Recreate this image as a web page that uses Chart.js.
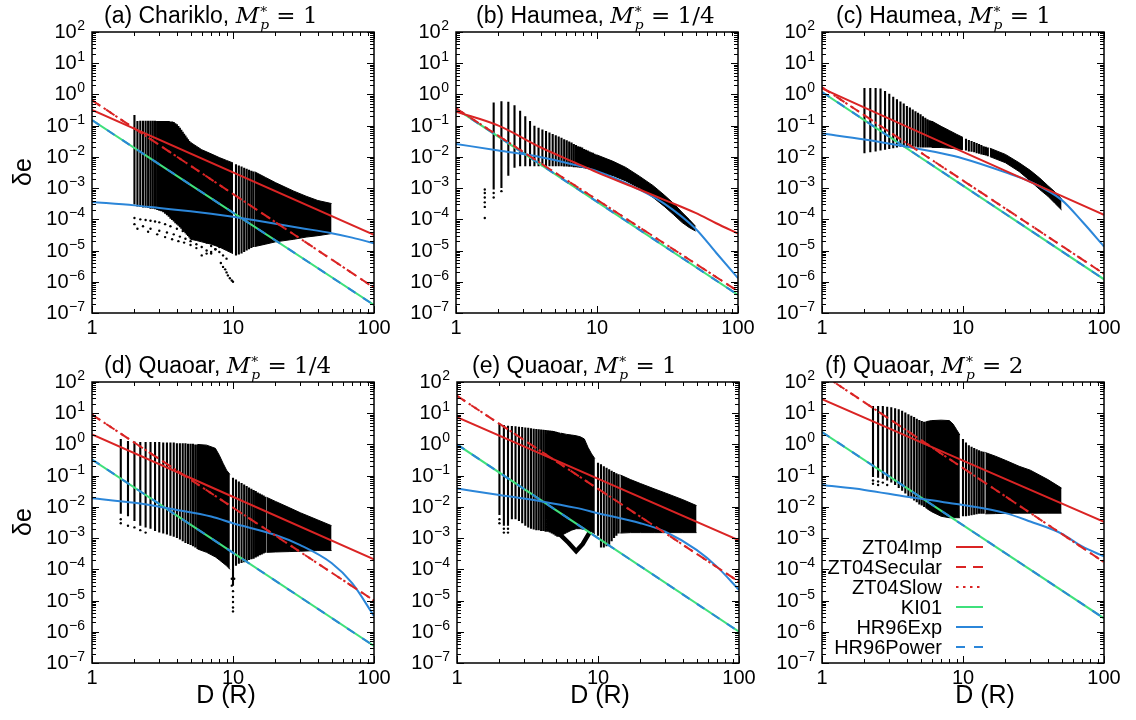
<!DOCTYPE html>
<html>
<head>
<meta charset="utf-8">
<title>Eccentricity excitation vs distance</title>
<script src="https://cdn.jsdelivr.net/npm/chart.js@4.4.1/dist/chart.umd.min.js"></script>
<style>
  html, body { margin: 0; padding: 0; background: #fff; }
  body { position: relative; width: 1136px; height: 720px; overflow: hidden;
         font-family: "Liberation Sans", Arial, Helvetica, sans-serif; color: #000; }
  canvas { position: absolute; }
  .ttl { position: absolute; font-size: 23px; line-height: 23px; white-space: nowrap; }
  .mp { font-family: "DejaVu Serif", "Liberation Serif", serif; }
  .ss { display: inline-block; font-size: 0.6em; line-height: 0.95; vertical-align: -0.45em; margin-left: 1px; }
  .ss span { display: block; }
  .ylab { position: absolute; font-size: 25px; white-space: nowrap; transform: translate(-50%, -50%) rotate(-90deg); }
  .xlab { position: absolute; font-size: 25px; white-space: nowrap; transform: translate(-50%, -50%); }
</style>
</head>
<body>
<script>
// ---- tick labels ----
const Y_EXP = [2, 1, 0, -1, -2, -3, -4, -5, -6, -7];
const X_TICKS = [1, 10, 100];
const LEGEND_NAMES = ['ZT04Imp', 'ZT04Secular', 'ZT04Slow', 'KI01', 'HR96Exp', 'HR96Power'];
const TITLE_NAMES = ['(a) Chariklo, ', '(b) Haumea, ', '(c) Haumea, ', '(d) Quaoar, ', '(e) Quaoar, ', '(f) Quaoar, '];
const TITLE_MASS = ['1', '1/4', '1', '1/4', '1', '2'];

// ---- model curves (straight ones only need the ends) ----
const LINE_D = [1, 100];
const aImp = [0.32, 3.2e-5], aSec = [0.65, 6.5e-7], aKI = [0.15, 1.8e-7];
const bSec = [0.36, 5e-7], bKI = [0.35, 3.8e-7];
const cSec = [1.7, 1.8e-6], cKI = [1.2, 1.2e-6];
const dImp = [2.1, 2.1e-4], dSec = [9, 1.0e-5], dKI = [0.33, 3.5e-7];
const eImp = [7.5, 8.5e-4], eSec = [36, 4e-5], eKI = [1.0, 1.0e-6];
const fImp = [28, 3.3e-3], fSec = [180, 1.7e-4], fKI = [2.5, 2.7e-6];

const bImpD = [1, 2, 4, 7, 10, 20, 30, 50, 70, 100];
const bImp = [0.28, 0.1, 0.02, 6.5e-3, 3.2e-3, 9e-4, 4.2e-4, 1.6e-4, 7.5e-5, 3.5e-5];
const cImpD = [1, 10, 100];
const cImp = [1.55, 0.0145, 1.4e-4];

const aExpD = [1, 2, 3, 5, 7, 10, 15, 20, 30, 50, 70, 100];
const aExp = [3.6e-4, 2.8e-4, 2.3e-4, 1.8e-4, 1.5e-4, 1.2e-4, 9e-5, 7.2e-5, 5.3e-5, 3.6e-5, 2.6e-5, 1.7e-5];
const EXP_D = [1, 2, 4, 7, 10, 20, 30, 50, 70, 100];
const bExp = [0.026, 0.016, 0.0098, 0.0055, 0.0035, 9e-4, 3.2e-4, 5e-5, 8.5e-6, 1.3e-6];
const cExp = [0.056, 0.036, 0.021, 0.013, 0.0089, 3.2e-3, 1.6e-3, 4.2e-4, 8.5e-5, 1.35e-5];
const dExp = [0.019, 0.0135, 0.008, 0.0049, 0.003, 1.26e-3, 6e-4, 1.6e-4, 3.6e-5, 3.2e-6];
const eExp = [0.039, 0.024, 0.015, 0.0093, 0.0063, 3e-3, 1.6e-3, 4.2e-4, 1.2e-4, 2.2e-5];
const fExp = [0.05, 0.035, 0.021, 0.0146, 0.0115, 6.3e-3, 3.4e-3, 1.4e-3, 5.4e-4, 2.6e-4];

// ---- simulation results: separate vertical bars, solid bands where they merge, stray points ----
const aBarD = [2.0, 2.1, 2.2, 2.3, 2.4, 2.5, 2.6, 2.7, 2.8, 2.9, 3.0, 3.1, 3.2, 3.3, 3.4, 3.5, 3.6, 3.7, 3.8, 3.9, 4.0, 4.1, 4.2, 4.3, 4.4, 4.5, 4.6, 4.7, 4.8, 4.9, 5.0];
const aBarHi = [0.22, 0.14, 0.145, 0.145, 0.145, 0.145, 0.145, 0.145, 0.145, 0.14, 0.14, 0.14, 0.14, 0.14, 0.14, 0.14, 0.135, 0.135, 0.13, 0.12, 0.11, 0.097, 0.085, 0.074, 0.064, 0.055, 0.048, 0.042, 0.037, 0.032, 0.029];
const aBarLo = [3.0e-4, 2.6e-4, 2.5e-4, 2.4e-4, 2.4e-4, 2.3e-4, 2.2e-4, 2.2e-4, 2.1e-4, 2.0e-4, 1.9e-4, 1.8e-4, 1.7e-4, 1.5e-4, 1.35e-4, 1.2e-4, 1.05e-4, 9.5e-5, 8.5e-5, 7.5e-5, 6.8e-5, 6.2e-5, 5.6e-5, 5.0e-5, 4.5e-5, 4.0e-5, 3.6e-5, 3.2e-5, 2.9e-5, 2.6e-5, 2.3e-5];
const aBand1D = [5.0, 5.5, 6, 7, 8, 9, 10];
const aBand1Hi = [0.029, 0.022, 0.017, 0.0125, 0.0095, 0.0077, 0.0064];
const aBand1Lo = [2.3e-5, 2.1e-5, 1.9e-5, 1.6e-5, 1.3e-5, 1.0e-5, 8e-6];
const aBar2D = [10.5, 11, 11.5, 12, 12.5, 13, 13.5, 14];
const aBar2Hi = [5.8e-3, 5.3e-3, 4.9e-3, 4.5e-3, 4.2e-3, 3.9e-3, 3.6e-3, 3.4e-3];
const aBar2Lo = [7e-6, 7.5e-6, 8e-6, 9e-6, 1e-5, 1.1e-5, 1.2e-5, 1.3e-5];
const aBand2D = [14.3, 17, 20, 27, 33, 40, 50];
const aBand2Hi = [3.3e-3, 2.2e-3, 1.5e-3, 8e-4, 5.5e-4, 4e-4, 3.2e-4];
const aBand2Lo = [1.35e-5, 1.6e-5, 1.9e-5, 2.3e-5, 2.7e-5, 3e-5, 3.5e-5];
const aDotD = [2.0, 2.2, 2.4, 2.6, 2.8, 3.0, 3.3, 3.6, 4.0, 4.4, 4.8,
               2.0, 2.3, 2.6, 3.0, 3.4, 3.8, 4.2, 4.6, 5.0, 5.5, 6.0, 6.5, 7.0,
               2.1, 2.5, 2.9, 3.3, 3.7, 4.1, 4.5, 5.0, 5.5,
               5.5, 6.0, 6.5, 7.0, 7.5, 8.0, 8.5, 9.0,
               6.0, 6.5, 7.0, 7.5, 8.0, 8.5, 9.0, 9.5,
               8.2, 8.5, 8.8, 9.0, 9.2, 9.5, 9.8, 10.0];
const aDotV = [1.1e-4, 1e-4, 9.5e-5, 9e-5, 8.5e-5, 8e-5, 7e-5, 6e-5, 5e-5, 4.2e-5, 3.5e-5,
               7e-5, 6e-5, 5e-5, 4.3e-5, 3.8e-5, 3.3e-5, 2.8e-5, 2.4e-5, 2e-5, 1.6e-5, 1.3e-5, 1e-5, 8e-6,
               5e-5, 4e-5, 3.3e-5, 2.7e-5, 2.3e-5, 2e-5, 1.8e-5, 1.5e-5, 1.2e-5,
               3e-5, 2.4e-5, 1.8e-5, 1.4e-5, 1.1e-5, 9e-6, 7e-6, 5.5e-6,
               7e-6, 8e-6, 9e-6, 1.1e-5, 1.3e-5, 1.6e-5, 2e-5, 2.5e-5,
               4e-6, 3e-6, 2.5e-6, 2e-6, 1.6e-6, 1.3e-6, 1.1e-6, 1e-6];

const bBarD = [1.85, 2.1, 2.35, 2.6, 2.85, 3.1, 3.35, 3.6, 3.85, 4.1, 4.35, 4.6, 4.85, 5.1, 5.35, 5.6, 5.85, 6.1, 6.35, 6.6, 6.85, 7.1, 7.35, 7.6, 7.85, 8.1, 8.35, 8.6, 8.85, 9.1, 9.35, 9.6, 9.85];
const bBarHi = [0.55, 0.6, 0.58, 0.45, 0.3, 0.2, 0.14, 0.1, 0.085, 0.075, 0.067, 0.06, 0.054, 0.049, 0.045, 0.041, 0.037, 0.034, 0.031, 0.029, 0.026, 0.024, 0.022, 0.021, 0.02, 0.018, 0.017, 0.016, 0.015, 0.014, 0.0135, 0.0125, 0.012];
const bBarLo = [9e-4, 1.0e-3, 2.5e-3, 4.5e-3, 5.0e-3, 5.0e-3, 5.0e-3, 5.0e-3, 5.0e-3, 5.0e-3, 5.0e-3, 5.0e-3, 5.0e-3, 5.0e-3, 5.0e-3, 5.0e-3, 4.9e-3, 4.9e-3, 4.8e-3, 4.8e-3, 4.7e-3, 4.7e-3, 4.6e-3, 4.5e-3, 4.4e-3, 4.3e-3, 4.2e-3, 4.1e-3, 4.0e-3, 3.9e-3, 3.8e-3, 3.7e-3, 3.6e-3];
const bBandD = [10, 13, 16, 20, 25, 30, 35, 40, 45, 50];
const bBandHi = [0.0115, 0.0072, 0.0046, 0.0024, 0.0012, 6e-4, 3.2e-4, 1.7e-4, 1e-4, 6e-5];
const bBandLo = [3.5e-3, 2.5e-3, 1.7e-3, 1e-3, 5e-4, 2.6e-4, 1.4e-4, 8e-5, 5.5e-5, 4.2e-5];
const bDotD = [1.6, 1.6, 1.6, 1.6, 1.6, 1.6, 1.85, 1.85, 2.1];
const bDotV = [1.1e-4, 2.5e-4, 3.5e-4, 5e-4, 7e-4, 9e-4, 5e-4, 7e-4, 8e-4];

const cBarD = [2.0, 2.2, 2.4, 2.6, 2.8, 3.0, 3.2, 3.4, 3.6, 3.8, 4.0, 4.2, 4.4, 4.6, 4.8, 5.0, 5.2, 5.4, 5.6, 5.8, 6.0];
const cBarHi = [1.6, 1.6, 1.6, 1.55, 1.3, 1.05, 0.85, 0.7, 0.59, 0.51, 0.43, 0.38, 0.33, 0.29, 0.26, 0.23, 0.2, 0.18, 0.16, 0.15, 0.14];
const cBarLo = [0.013, 0.014, 0.015, 0.016, 0.017, 0.018, 0.019, 0.02, 0.021, 0.021, 0.021, 0.021, 0.021, 0.021, 0.02, 0.02, 0.02, 0.02, 0.02, 0.02, 0.02];
const cBand1D = [6, 7, 8, 9, 10];
const cBand1Hi = [0.14, 0.095, 0.07, 0.053, 0.042];
const cBand1Lo = [0.02, 0.02, 0.019, 0.018, 0.017];
const cBar2D = [10.5, 11, 11.5, 12, 12.5, 13, 13.5, 14, 14.5, 15];
const cBar2Hi = [0.038, 0.035, 0.032, 0.03, 0.028, 0.026, 0.024, 0.022, 0.021, 0.02];
const cBar2Lo = [0.016, 0.015, 0.0145, 0.014, 0.013, 0.0125, 0.012, 0.0115, 0.011, 0.0105];
const cBand2D = [15.5, 20, 25, 30, 35, 40, 45, 50];
const cBand2Hi = [0.019, 0.012, 0.0065, 0.0037, 0.0021, 0.0012, 7.5e-4, 4.5e-4];
const cBand2Lo = [0.0102, 0.0065, 0.0034, 0.0017, 9e-4, 5.5e-4, 3.2e-4, 2e-4];

const dBarD = [1.6, 1.8, 2.0, 2.2, 2.4, 2.6, 2.8, 3.0, 3.2, 3.4, 3.6, 3.8, 4.0, 4.2, 4.4, 4.6, 4.8, 5.0, 5.2, 5.4, 5.6];
const dBarHi = [1.5, 1.3, 1.25, 1.2, 1.2, 1.2, 1.2, 1.2, 1.15, 1.15, 1.15, 1.15, 1.1, 1.1, 1.1, 1.1, 1.05, 1.05, 1.05, 1.0, 1.0];
const dBarLo = [6e-3, 5e-3, 3.5e-3, 2.5e-3, 2.2e-3, 2e-3, 1.7e-3, 1.5e-3, 1.4e-3, 1.3e-3, 1.2e-3, 1.1e-3, 1e-3, 9e-4, 8e-4, 7e-4, 6.5e-4, 6e-4, 5.5e-4, 5e-4, 4.5e-4];
const dBand1D = [5.6, 6.5, 7.5, 8, 8.5, 9, 9.5];
const dBand1Hi = [1.0, 0.95, 0.75, 0.45, 0.25, 0.15, 0.11];
const dBand1Lo = [4.5e-4, 3.5e-4, 2.5e-4, 2e-4, 1.6e-4, 1.3e-4, 1e-4];
const dBar2D = [10, 10.5, 11, 11.5, 12, 12.5, 13, 13.5, 14, 14.5, 15, 15.5, 16, 16.5, 17];
const dBar2Hi = [0.085, 0.075, 0.065, 0.058, 0.052, 0.047, 0.042, 0.038, 0.035, 0.032, 0.029, 0.027, 0.025, 0.023, 0.021];
const dBar2Lo = [3e-5, 1.3e-4, 1.5e-4, 1.6e-4, 1.7e-4, 1.8e-4, 2e-4, 2.1e-4, 2.2e-4, 2.4e-4, 2.6e-4, 2.8e-4, 3e-4, 3.2e-4, 3.4e-4];
const dBand2D = [17.4, 20, 25, 30, 40, 50];
const dBand2Hi = [0.02, 0.015, 0.0095, 0.0065, 0.0038, 0.0025];
const dBand2Lo = [3.5e-4, 3.6e-4, 3.7e-4, 3.8e-4, 4e-4, 4e-4];
const dDotD = [10, 10, 10, 10, 10, 9.8, 9.8, 10.2, 1.6, 1.6, 1.8, 2.0, 2.2, 2.4];
const dDotV = [2e-5, 1.3e-5, 9e-6, 6e-6, 4.5e-6, 5e-5, 3e-5, 5e-5, 4e-3, 3e-3, 2.5e-3, 2.2e-3, 1.8e-3, 1.5e-3];

const eBarD = [2.0, 2.15, 2.3, 2.45, 2.6, 2.75, 2.9, 3.05, 3.2, 3.35, 3.5, 3.65, 3.8, 3.95, 4.1, 4.25, 4.4, 4.55, 4.7, 4.85, 5.0, 5.15, 5.3, 5.45];
const eBarHi = [4.5, 4.2, 4.0, 3.9, 3.8, 3.7, 3.6, 3.5, 3.4, 3.3, 3.2, 3.1, 3.05, 3.0, 2.95, 2.9, 2.85, 2.8, 2.75, 2.7, 2.6, 2.5, 2.4, 2.3];
const eBarLo = [5.5e-3, 2.5e-3, 2.5e-3, 4e-3, 4e-3, 3.5e-3, 3e-3, 2.5e-3, 2.2e-3, 2e-3, 1.9e-3, 1.8e-3, 1.8e-3, 1.7e-3, 1.7e-3, 1.6e-3, 1.6e-3, 1.5e-3, 1.4e-3, 1.3e-3, 1.2e-3, 1.1e-3, 1.1e-3, 1.2e-3];
const eBand1D = [5.45, 6, 6.5, 7, 7.5, 8, 8.5, 9, 9.5];
const eBand1Hi = [2.3, 2.1, 2.0, 1.9, 1.75, 1.5, 0.8, 0.5, 0.35];
const eBand1Lo = [1.2e-3, 1.5e-3, 1.8e-3, 2e-3, 2e-3, 1.9e-3, 1.7e-3, 1.6e-3, 1.4e-3];
const eVeeD = [5.3, 6.2, 7.0, 7.8, 8.7];
const eVeeV = [1.4e-3, 7e-4, 3.8e-4, 6.5e-4, 1.5e-3];
const eBar2D = [10, 10.5, 11, 11.5, 12, 12.5, 13, 13.5, 14];
const eBar2Hi = [0.26, 0.23, 0.2, 0.18, 0.16, 0.145, 0.13, 0.12, 0.11];
const eBar2Lo = [1.2e-3, 5e-4, 5e-4, 5.5e-4, 6e-4, 8e-4, 1e-3, 1.2e-3, 1.4e-3];
const eBand2D = [14.4, 17, 20, 25, 30, 40, 50];
const eBand2Hi = [0.105, 0.075, 0.056, 0.038, 0.028, 0.017, 0.011];
const eBand2Lo = [1.45e-3, 1.5e-3, 1.5e-3, 1.5e-3, 1.5e-3, 1.5e-3, 1.5e-3];
const eDotD = [2.0, 2.0, 2.15, 2.15, 2.3, 2.3];
const eDotV = [4e-3, 3e-3, 2e-3, 1.5e-3, 2e-3, 1.5e-3];

const fBarD = [2.3, 2.5, 2.7, 2.9, 3.1, 3.3, 3.5, 3.7, 3.9, 4.1, 4.3, 4.5, 4.7, 4.9, 5.1, 5.3, 5.5];
const fBarHi = [17, 17, 17, 16, 15.5, 14.5, 13.5, 12, 10.5, 9.3, 8.3, 7.5, 6.7, 6.1, 5.6, 5.3, 5.4];
const fBarLo = [0.09, 0.085, 0.08, 0.07, 0.06, 0.05, 0.04, 0.033, 0.027, 0.022, 0.019, 0.016, 0.014, 0.012, 0.011, 0.01, 0.009];
const fBand1D = [5.5, 6, 7, 8, 8.5, 9, 9.5];
const fBand1Hi = [5.4, 5.8, 6.0, 5.8, 4.5, 3.0, 2.0];
const fBand1Lo = [9e-3, 7e-3, 5e-3, 4.5e-3, 4.5e-3, 4.5e-3, 4.5e-3];
const fBar2D = [10, 10.5, 11, 11.5, 12, 12.5, 13, 13.5, 14];
const fBar2Hi = [1.5, 1.15, 0.95, 0.85, 0.77, 0.7, 0.65, 0.61, 0.58];
const fBar2Lo = [5e-3, 5e-3, 5.2e-3, 5.4e-3, 5.6e-3, 5.8e-3, 6e-3, 6e-3, 6e-3];
const fBand2D = [14.4, 17, 20, 25, 30, 40, 50];
const fBand2Hi = [0.55, 0.42, 0.31, 0.2, 0.15, 0.075, 0.04];
const fBand2Lo = [6e-3, 6.1e-3, 6.2e-3, 6.3e-3, 6.3e-3, 6.3e-3, 6.3e-3];
const fDotD = [2.3, 2.3, 2.5, 2.5, 2.7, 2.9];
const fDotV = [0.07, 0.055, 0.065, 0.05, 0.06, 0.05];

// ---- layout ----
const RED = '#da2424', GREEN = '#3fe07c', BLUE = '#2b86d9';
const FONT = '"Liberation Sans", Arial, Helvetica, sans-serif';
const PW = 282, PH = 281;
const PAD = { left: 80, top: 24, right: 24, bottom: 42 };
const BOX = [
  { left: 92, top: 32 }, { left: 456, top: 32 }, { left: 822, top: 32 },
  { left: 92, top: 382 }, { left: 457, top: 382 }, { left: 822, top: 382 }
];
const TITLE_POS = [[104, 4], [476, 4], [836, 4], [104, 354], [472, 354], [825, 354]];

const PANELS = [
  { bars: [[aBarD, aBarLo, aBarHi], [aBar2D, aBar2Lo, aBar2Hi]],
    bands: [[aBand1D, aBand1Lo, aBand1Hi], [aBand2D, aBand2Lo, aBand2Hi]],
    dots: [aDotD, aDotV],
    imp: [LINE_D, aImp], sec: [LINE_D, aSec], ki: [LINE_D, aKI], exp: [aExpD, aExp] },
  { bars: [[bBarD, bBarLo, bBarHi]],
    bands: [[bBandD, bBandLo, bBandHi]],
    dots: [bDotD, bDotV],
    imp: [bImpD, bImp], sec: [LINE_D, bSec], ki: [LINE_D, bKI], exp: [EXP_D, bExp] },
  { bars: [[cBarD, cBarLo, cBarHi], [cBar2D, cBar2Lo, cBar2Hi]],
    bands: [[cBand1D, cBand1Lo, cBand1Hi], [cBand2D, cBand2Lo, cBand2Hi]],
    dots: null,
    imp: [cImpD, cImp], sec: [LINE_D, cSec], ki: [LINE_D, cKI], exp: [EXP_D, cExp] },
  { bars: [[dBarD, dBarLo, dBarHi], [dBar2D, dBar2Lo, dBar2Hi]],
    bands: [[dBand1D, dBand1Lo, dBand1Hi], [dBand2D, dBand2Lo, dBand2Hi]],
    dots: [dDotD, dDotV],
    imp: [LINE_D, dImp], sec: [LINE_D, dSec], ki: [LINE_D, dKI], exp: [EXP_D, dExp] },
  { bars: [[eBarD, eBarLo, eBarHi], [eBar2D, eBar2Lo, eBar2Hi]],
    bands: [[eBand1D, eBand1Lo, eBand1Hi], [eBand2D, eBand2Lo, eBand2Hi]],
    dots: [eDotD, eDotV], vee: [eVeeD, eVeeV],
    imp: [LINE_D, eImp], sec: [LINE_D, eSec], ki: [LINE_D, eKI], exp: [EXP_D, eExp] },
  { bars: [[fBarD, fBarLo, fBarHi], [fBar2D, fBar2Lo, fBar2Hi]],
    bands: [[fBand1D, fBand1Lo, fBand1Hi], [fBand2D, fBand2Lo, fBand2Hi]],
    dots: [fDotD, fDotV],
    imp: [LINE_D, fImp], sec: [LINE_D, fSec], ki: [LINE_D, fKI], exp: [EXP_D, fExp], legend: true }
];

const pts = (D, v) => D.map((d, i) => ({ x: d, y: v[i] }));

function barSet(D, lo, hi) {
  const data = [];
  D.forEach((d, i) => data.push({ x: d, y: lo[i] }, { x: d, y: hi[i] }, { x: d, y: null }));
  return { data, borderColor: '#000', borderWidth: 2.1, pointRadius: 0, spanGaps: false, order: 20 };
}

function bandSets(D, lo, hi) {
  return [
    { data: pts(D, hi), borderColor: '#000', borderWidth: 1, pointRadius: 0, fill: false, order: 20 },
    { data: pts(D, lo), borderColor: '#000', borderWidth: 1, pointRadius: 0, fill: '-1', backgroundColor: '#000', order: 20 }
  ];
}

function curve(name, [D, v], color, dash, order) {
  return { legendLabel: name, data: pts(D, v), borderColor: color, borderWidth: 2, borderDash: dash,
           pointRadius: 0, fill: false, cubicInterpolationMode: 'monotone', order };
}

// frame, inward ticks on all sides, tick labels and the legend
const framePlugin = {
  id: 'frame',
  afterDatasetsDraw(chart) {
    const { ctx, chartArea: a, scales: { x, y } } = chart;
    ctx.save();
    ctx.strokeStyle = '#000';
    ctx.lineWidth = 1;
    ctx.beginPath();
    for (let e = -7; e <= 2; e++) {
      for (let m = 1; m <= 9; m++) {
        const v = m * Math.pow(10, e);
        if (v > 100.001) break;
        const py = Math.round(y.getPixelForValue(v)) + 0.5;
        const len = m === 1 ? 7 : 4;
        ctx.moveTo(a.left, py); ctx.lineTo(a.left + len, py);
        ctx.moveTo(a.right, py); ctx.lineTo(a.right - len, py);
      }
    }
    for (let e = 0; e <= 2; e++) {
      for (let m = 1; m <= 9; m++) {
        const v = m * Math.pow(10, e);
        if (v > 100.001) break;
        const px = Math.round(x.getPixelForValue(v)) + 0.5;
        const len = m === 1 ? 7 : 4;
        ctx.moveTo(px, a.bottom); ctx.lineTo(px, a.bottom - len);
        ctx.moveTo(px, a.top); ctx.lineTo(px, a.top + len);
      }
    }
    ctx.stroke();
    ctx.lineWidth = 1.5;
    ctx.strokeRect(a.left, a.top, a.right - a.left, a.bottom - a.top);
    ctx.restore();
  },
  afterDraw(chart, args, opts) {
    const { ctx, chartArea: a, scales: { x, y } } = chart;
    ctx.save();
    ctx.fillStyle = '#000';
    ctx.textBaseline = 'alphabetic';
    ctx.textAlign = 'right';
    Y_EXP.forEach(e => {
      const py = y.getPixelForValue(Math.pow(10, e));
      const sup = e < 0 ? '\u2212' + (-e) : String(e);
      ctx.font = '14px ' + FONT;
      const w = ctx.measureText(sup).width;
      const xr = a.left - 7;
      ctx.fillText(sup, xr, py - 2);
      ctx.font = '20px ' + FONT;
      ctx.fillText('10', xr - w - 0.5, py + 6);
    });
    ctx.textAlign = 'center';
    ctx.font = '20px ' + FONT;
    X_TICKS.forEach(t => ctx.fillText(String(t), x.getPixelForValue(t), a.bottom + 21));

    if (opts && opts.legend) {
      const rows = chart.data.datasets.filter(ds => ds.legendLabel);
      ctx.font = '20px ' + FONT;
      ctx.textAlign = 'right';
      ctx.textBaseline = 'middle';
      rows.forEach((ds, i) => {
        const ry = a.top + 165 + i * 20;
        ctx.fillStyle = '#000';
        ctx.fillText(ds.legendLabel, a.left + 120, ry + 1);
        ctx.strokeStyle = ds.borderColor;
        ctx.lineWidth = 2;
        ctx.setLineDash(ds.borderDash || []);
        ctx.beginPath();
        ctx.moveTo(a.left + 134, ry); ctx.lineTo(a.left + 161, ry);
        ctx.stroke();
      });
    }
    ctx.restore();
  }
};

PANELS.forEach((p, k) => {
  const box = BOX[k];
  const cv = document.createElement('canvas');
  cv.width = PAD.left + PW + PAD.right;
  cv.height = PAD.top + PH + PAD.bottom;
  cv.style.left = (box.left - PAD.left) + 'px';
  cv.style.top = (box.top - PAD.top) + 'px';
  document.body.appendChild(cv);

  const datasets = [
    curve(LEGEND_NAMES[0], p.imp, RED, [], 1),
    curve(LEGEND_NAMES[1], p.sec, RED, [10, 7], 2),
    curve(LEGEND_NAMES[2], p.sec, RED, [2.5, 4.5], 3),
    curve(LEGEND_NAMES[3], p.ki, GREEN, [], 6),
    curve(LEGEND_NAMES[4], p.exp, BLUE, [], 4),
    curve(LEGEND_NAMES[5], p.ki, BLUE, [9, 9], 5)
  ];
  p.bars.forEach(b => datasets.push(barSet(...b)));
  p.bands.forEach(b => datasets.push(...bandSets(...b)));
  if (p.vee) {
    datasets.push({ data: pts(p.vee[0], p.vee[1]), borderColor: '#000', borderWidth: 4.5,
                    pointRadius: 0, fill: false, order: 20 });
  }
  if (p.dots) {
    datasets.push({ data: pts(p.dots[0], p.dots[1]), showLine: false, pointRadius: 1.2,
                    pointBorderWidth: 0, pointBackgroundColor: '#000', order: 20 });
  }
  datasets.forEach(ds => { ds.clip = 0; });

  new Chart(cv, {
    type: 'line',
    data: { datasets },
    options: {
      responsive: false, animation: false, devicePixelRatio: 1, events: [],
      layout: { padding: PAD },
      plugins: { legend: { display: false }, tooltip: { enabled: false }, frame: { legend: !!p.legend } },
      scales: {
        x: { type: 'logarithmic', min: 1, max: 100, display: false },
        y: { type: 'logarithmic', min: 1e-7, max: 100, display: false }
      }
    },
    plugins: [framePlugin]
  });

  const t = document.createElement('div');
  t.className = 'ttl';
  t.style.left = TITLE_POS[k][0] + 'px';
  t.style.top = TITLE_POS[k][1] + 'px';
  t.innerHTML = TITLE_NAMES[k] + '<span class="mp"><i>M</i><span class="ss"><span>*</span><span><i>p</i></span></span> = ' + TITLE_MASS[k] + '</span>';
  document.body.appendChild(t);
});

[[22, 172], [22, 522]].forEach(([cx, cy]) => {
  const d = document.createElement('div');
  d.className = 'ylab';
  d.style.left = cx + 'px'; d.style.top = cy + 'px';
  d.textContent = 'δe';
  document.body.appendChild(d);
});
[[226, 694], [600, 694], [985, 694]].forEach(([cx, cy]) => {
  const d = document.createElement('div');
  d.className = 'xlab';
  d.style.left = cx + 'px'; d.style.top = cy + 'px';
  d.textContent = 'D (R)';
  document.body.appendChild(d);
});
</script>
</body>
</html>
